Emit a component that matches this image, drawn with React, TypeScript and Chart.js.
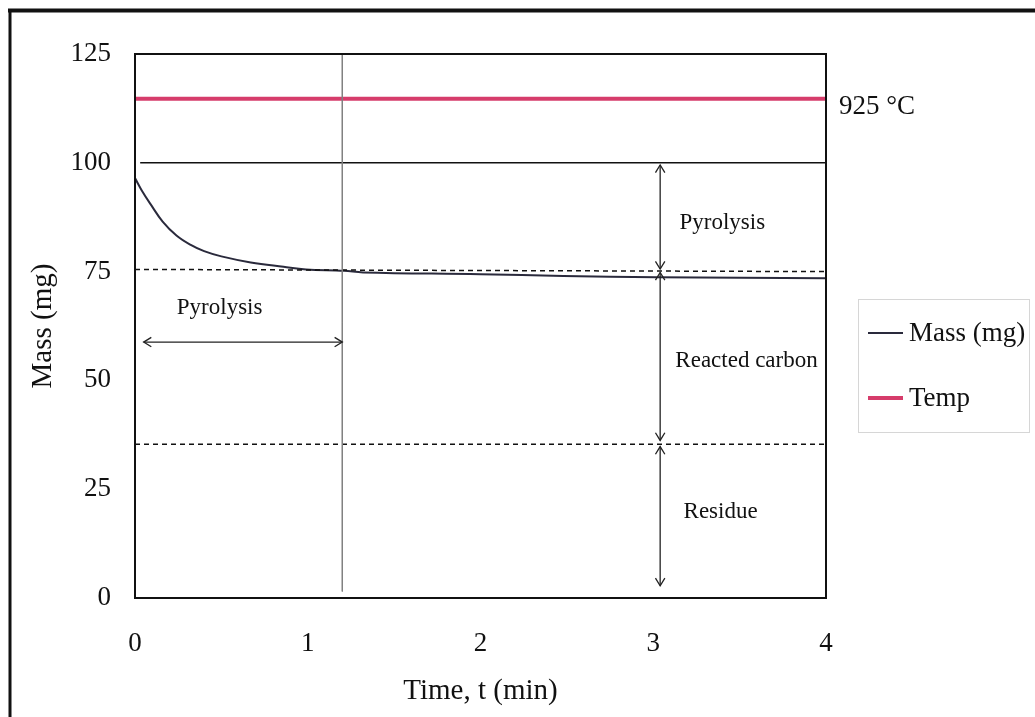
import React, { useEffect, useRef } from 'react';
import { Chart, registerables } from 'chart.js';

Chart.register(...registerables);

// Axis ranges and ticks
const timeRange = [0, 4];
const timeStep = 1;
const massRange = [0, 125];
const massStep = 25;

// Sample mass during the run (min, mg)
const massTime = [0, 0.04, 0.09, 0.16, 0.24, 0.32, 0.4, 0.5, 0.67, 0.86, 0.99, 1.21, 1.32, 2.0, 2.48, 3.02, 4.0];
const massValues = [96.5, 93.6, 90.5, 86.5, 83.3, 81.2, 79.7, 78.5, 77.1, 76.1, 75.5, 75.2, 74.8, 74.4, 74.0, 73.7, 73.5];

// Furnace temperature trace (held constant)
const tempTime = [0, 4];
const tempValues = [114.7, 114.7];
const tempLabel = '925 °C';

// Reference levels
const initialTime = [0.03, 4];
const initialMass = [100, 100];
const charTime = [0, 4];
const charMass = [75.5, 75.0];
const residueTime = [0, 4];
const residueMass = [35.3, 35.3];
const pyrolysisEndTime = [1.2, 1.2];
const pyrolysisEndMass = [125, 1.5];

// Double-headed span arrows
const verticalSpanTime = [3.04, 3.04, 3.04];
const verticalSpanFrom = [99.5, 74.8, 34.8];
const verticalSpanTo = [75.6, 36.2, 2.8];
const horizontalSpanMass = [58.8];
const horizontalSpanFrom = [0.05];
const horizontalSpanTo = [1.2];

// Region notes
const noteTexts = ['Pyrolysis', 'Pyrolysis', 'Reacted carbon', 'Residue'];
const noteTime = [0.49, 3.4, 3.54, 3.39];
const noteMass = [66.6, 86.2, 54.5, 19.8];

const SERIF = '"Liberation Serif", "Times New Roman", serif';

const zip = (xs: number[], ys: number[]) => xs.map((x, i) => ({ x, y: ys[i] }));

function arrowHead(ctx: CanvasRenderingContext2D, x: number, y: number, angle: number) {
  const len = 9;
  const spread = 0.55;
  ctx.beginPath();
  ctx.moveTo(x - len * Math.cos(angle - spread), y - len * Math.sin(angle - spread));
  ctx.lineTo(x, y);
  ctx.lineTo(x - len * Math.cos(angle + spread), y - len * Math.sin(angle + spread));
  ctx.stroke();
}

function doubleArrow(ctx: CanvasRenderingContext2D, x1: number, y1: number, x2: number, y2: number) {
  ctx.beginPath();
  ctx.moveTo(x1, y1);
  ctx.lineTo(x2, y2);
  ctx.stroke();
  const a = Math.atan2(y2 - y1, x2 - x1);
  arrowHead(ctx, x2, y2, a);
  arrowHead(ctx, x1, y1, a + Math.PI);
}

const decorations = {
  id: 'decorations',
  beforeDraw(chart: any) {
    const ctx = chart.ctx as CanvasRenderingContext2D;
    ctx.save();
    ctx.fillStyle = '#ffffff';
    ctx.fillRect(0, 0, chart.width, chart.height);
    // page frame
    ctx.strokeStyle = '#111';
    ctx.lineWidth = 4;
    ctx.beginPath();
    ctx.moveTo(8, 10.5);
    ctx.lineTo(chart.width, 10.5);
    ctx.stroke();
    ctx.lineWidth = 3;
    ctx.beginPath();
    ctx.moveTo(10, 9);
    ctx.lineTo(10, chart.height);
    ctx.stroke();
    ctx.restore();
  },
  afterDatasetsDraw(chart: any) {
    const ctx = chart.ctx as CanvasRenderingContext2D;
    const xs = chart.scales.x;
    const ys = chart.scales.y;
    const area = chart.chartArea;
    ctx.save();

    // plot frame
    ctx.strokeStyle = '#111';
    ctx.lineWidth = 2;
    ctx.strokeRect(area.left, area.top, area.right - area.left, area.bottom - area.top);

    // span arrows
    ctx.strokeStyle = '#222';
    ctx.lineWidth = 1.3;
    verticalSpanTime.forEach((t, i) => {
      const x = xs.getPixelForValue(t);
      doubleArrow(ctx, x, ys.getPixelForValue(verticalSpanFrom[i]), x, ys.getPixelForValue(verticalSpanTo[i]));
    });
    horizontalSpanMass.forEach((m, i) => {
      const y = ys.getPixelForValue(m);
      doubleArrow(ctx, xs.getPixelForValue(horizontalSpanFrom[i]), y, xs.getPixelForValue(horizontalSpanTo[i]), y);
    });

    // notes
    ctx.fillStyle = '#111';
    ctx.font = `23px ${SERIF}`;
    ctx.textAlign = 'center';
    ctx.textBaseline = 'middle';
    noteTexts.forEach((txt, i) => {
      ctx.fillText(txt, xs.getPixelForValue(noteTime[i]), ys.getPixelForValue(noteMass[i]));
    });

    // temperature label
    ctx.font = `27px ${SERIF}`;
    ctx.textAlign = 'left';
    ctx.fillText(tempLabel, area.right + 13, ys.getPixelForValue(tempValues[tempValues.length - 1]) + 8);

    // legend
    const items = chart.data.datasets.filter((d: any) => d.inLegend);
    const bx = area.right + 32;
    const by = 299;
    const bw = 171;
    const bh = 133;
    ctx.strokeStyle = '#d6d6d6';
    ctx.lineWidth = 1;
    ctx.strokeRect(bx + 0.5, by + 0.5, bw, bh);
    items.forEach((d: any, i: number) => {
      const y = by + 34 + i * 65;
      ctx.strokeStyle = d.borderColor;
      ctx.lineWidth = d.borderWidth;
      ctx.beginPath();
      ctx.moveTo(bx + 10, y);
      ctx.lineTo(bx + 45, y);
      ctx.stroke();
      ctx.fillStyle = '#111';
      ctx.fillText(d.label, bx + 51, y + 1);
    });

    ctx.restore();
  },
};

export default function App() {
  const canvasRef = useRef<HTMLCanvasElement | null>(null);

  useEffect(() => {
    if (!canvasRef.current) return;
    const chart = new Chart(canvasRef.current, {
      type: 'line',
      data: {
        datasets: [
          {
            label: 'Pyrolysis end',
            data: zip(pyrolysisEndTime, pyrolysisEndMass),
            borderColor: '#808080',
            borderWidth: 1,
            pointRadius: 0,
          },
          {
            label: 'Initial mass',
            data: zip(initialTime, initialMass),
            borderColor: '#111',
            borderWidth: 1.6,
            pointRadius: 0,
          },
          {
            label: 'Char level',
            data: zip(charTime, charMass),
            borderColor: '#111',
            borderWidth: 1.5,
            borderDash: [5, 4],
            pointRadius: 0,
          },
          {
            label: 'Residue level',
            data: zip(residueTime, residueMass),
            borderColor: '#111',
            borderWidth: 1.5,
            borderDash: [5, 4],
            pointRadius: 0,
          },
          {
            label: 'Mass (mg)',
            data: zip(massTime, massValues),
            borderColor: '#2a2a3c',
            borderWidth: 2,
            pointRadius: 0,
            tension: 0.4,
            inLegend: true,
          } as any,
          {
            label: 'Temp',
            data: zip(tempTime, tempValues),
            borderColor: '#d63c6b',
            borderWidth: 4,
            pointRadius: 0,
            inLegend: true,
          } as any,
        ],
      },
      options: {
        animation: false,
        responsive: false,
        devicePixelRatio: 1,
        layout: { padding: { left: 0, top: 54, right: 209, bottom: 0 } },
        plugins: { legend: { display: false }, tooltip: { enabled: false } },
        scales: {
          x: {
            type: 'linear',
            min: timeRange[0],
            max: timeRange[1],
            afterFit: (s: any) => {
              s.height = 119;
            },
            grid: { display: false, drawTicks: false },
            border: { display: false },
            ticks: {
              stepSize: timeStep,
              padding: 30,
              color: '#111',
              font: { family: SERIF, size: 27 },
            },
            title: {
              display: true,
              text: 'Time, t (min)',
              color: '#111',
              font: { family: SERIF, size: 29 },
              padding: { top: 4, bottom: 8 },
            },
          },
          y: {
            type: 'linear',
            min: massRange[0],
            max: massRange[1],
            afterFit: (s: any) => {
              s.width = 135;
            },
            grid: { display: false, drawTicks: false },
            border: { display: false },
            ticks: {
              stepSize: massStep,
              padding: 24,
              color: '#111',
              font: { family: SERIF, size: 27 },
            },
            title: {
              display: true,
              text: 'Mass (mg)',
              color: '#111',
              font: { family: SERIF, size: 29 },
              padding: { top: 26, bottom: 4 },
            },
          },
        },
      },
      plugins: [decorations],
    });
    return () => chart.destroy();
  }, []);

  return (
    <div style={{ position: 'absolute', left: 0, top: 0, width: 1035, height: 717 }}>
      <canvas ref={canvasRef} width={1035} height={717} style={{ display: 'block' }} />
    </div>
  );
}
